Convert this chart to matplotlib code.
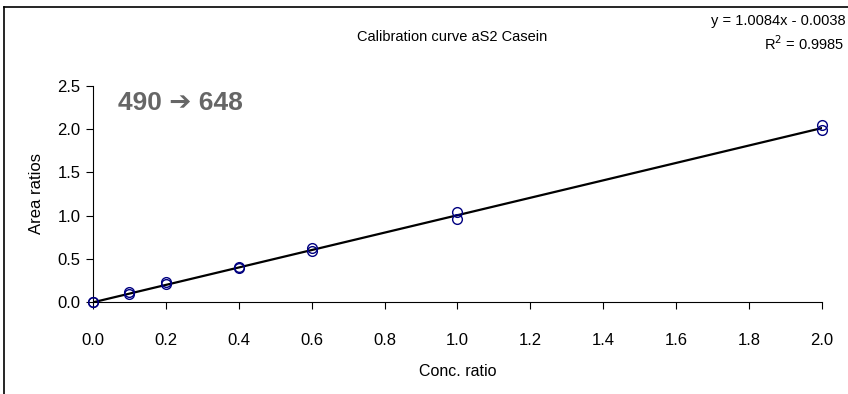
import numpy as np
import matplotlib.pyplot as plt
from matplotlib.lines import Line2D

plt.rcParams['font.family'] = ['Liberation Sans', 'DejaVu Sans']

# Calibration data (two replicates per level)
conc = [0.0, 0.0, 0.1, 0.1, 0.2, 0.2, 0.4, 0.4, 0.6, 0.6, 1.0, 1.0, 2.0, 2.0]
area = [0.0, 0.005, 0.09, 0.11, 0.21, 0.23, 0.39, 0.41, 0.59, 0.63, 0.96, 1.045, 1.995, 2.045]
slope = 1.0084
intercept = -0.0038
r2 = 0.9985
xticks = [0.0, 0.2, 0.4, 0.6, 0.8, 1.0, 1.2, 1.4, 1.6, 1.8, 2.0]
yticks = [0.0, 0.5, 1.0, 1.5, 2.0, 2.5]

fig = plt.figure(figsize=(8.48, 3.94), dpi=100)
ax = fig.add_axes([0.1097, 0.2335, 0.8596, 0.5483])

# trendline
xl = np.array([0.0, 2.0])
ax.plot(xl, slope * xl + intercept, color="black", lw=1.6, zorder=2)
ax.plot(conc, area, linestyle="none", marker="o", markersize=7,
        markerfacecolor="none", markeredgecolor="#000080", markeredgewidth=1.0,
        clip_on=False, zorder=3)

ax.set_xlim(0, 2.0)
ax.set_ylim(0, 2.5)
ax.set_xticks(xticks)
ax.set_yticks(yticks)
ax.set_xticklabels([f"{v:.1f}" for v in xticks])
ax.set_yticklabels([f"{v:.1f}" for v in yticks])
ax.tick_params(direction="out", length=5, width=0.8, labelsize=12)
ax.tick_params(axis="x", pad=17)
ax.tick_params(axis="y", pad=4)
ax.spines["top"].set_visible(False)
ax.spines["right"].set_visible(False)
ax.set_xlabel("Conc. ratio", fontsize=11.5, labelpad=12)
ax.set_ylabel("Area ratios", fontsize=12, labelpad=10)

fig.text(0.533, 0.905, "Calibration curve aS2 Casein", ha="center", va="center", fontsize=10.5)
fig.text(0.997, 0.947, "y = 1.0084x - 0.0038", ha="right", va="center", fontsize=10.5)
fig.text(0.996, 0.89, "R$^2$ = %.4f" % r2, ha="right", va="center", fontsize=10.5)
fig.text(0.139, 0.738, "490 \u2794 648", ha="left", va="center", fontsize=19,
         fontweight="bold", color="#666666", family=["Liberation Sans", "DejaVu Sans"])

# outer chart frame
fig.add_artist(Line2D([0.005, 0.005], [0.0, 0.982], transform=fig.transFigure, color="black", lw=1.2))
fig.add_artist(Line2D([0.005, 1.0], [0.982, 0.982], transform=fig.transFigure, color="black", lw=1.2))

fig.savefig("out.png", dpi=100)
